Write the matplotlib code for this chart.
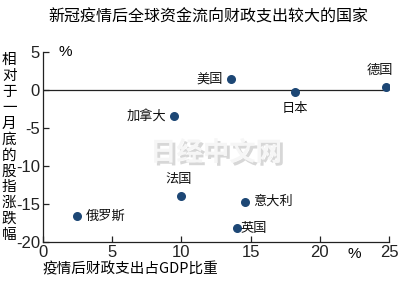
import matplotlib
matplotlib.use("Agg")
import matplotlib.pyplot as plt
import matplotlib.patheffects as pe

plt.rcParams['font.family'] = ['Noto Sans CJK SC', 'DejaVu Sans']

countries = ["俄罗斯", "加拿大", "法国", "美国", "日本", "德国", "意大利", "英国"]
spending = [2.5, 9.5, 10.0, 13.6, 18.2, 24.8, 14.6, 14.0]
stock_change = [-16.6, -3.5, -13.9, 1.4, -0.3, 0.4, -14.7, -18.2]
# label offsets (points) and alignment per country
label_pos = {
    "俄罗斯": (6, 0, "left", "center"),
    "加拿大": (-6, 0, "right", "center"),
    "法国": (-2, 7, "center", "bottom"),
    "美国": (-6, 0, "right", "center"),
    "日本": (0, -7, "center", "top"),
    "德国": (-5, 7, "center", "bottom"),
    "意大利": (6, 0, "left", "center"),
    "英国": (3, 0, "left", "center"),
}
xticks = [0, 5, 10, 15, 20, 25]
yticks = [5, 0, -5, -10, -15, -20]

num_font = ['Liberation Sans Narrow', 'Liberation Sans', 'DejaVu Sans']

fig = plt.figure(figsize=(4, 2.81), dpi=100)
ax = fig.add_axes([0.107, 0.139, 0.866, 0.677])

ax.axhline(0, color="#222222", lw=0.9, zorder=1)
ax.scatter(spending, stock_change, s=30, color="#1d4775", zorder=3)

for name, x, y in zip(countries, spending, stock_change):
    dx, dy, ha, va = label_pos[name]
    ax.annotate(name, (x, y), xytext=(dx, dy), textcoords="offset points",
                ha=ha, va=va, fontsize=9.5, color="#111111", fontweight="medium")

ax.set_xlim(0, 25)
ax.set_ylim(-20, 5)
ax.set_xticks(xticks)
ax.set_yticks(yticks)
ax.set_xticklabels([str(t) for t in xticks], family=num_font, fontsize=12)
ax.set_yticklabels([str(t) for t in yticks], family=num_font, fontsize=12)
ax.tick_params(direction="in", length=4, width=0.9, colors="#222222", pad=2)
for s in ["top", "right"]:
    ax.spines[s].set_visible(False)
for s in ["left", "bottom"]:
    ax.spines[s].set_linewidth(0.9)
    ax.spines[s].set_color("#222222")

ax.text(0.045, 1.0, "%", transform=ax.transAxes, ha="left", va="center",
        fontsize=11, family=num_font)
ax.text(0.9, -0.065, "%", transform=ax.transAxes, ha="center", va="center",
        fontsize=11, family=num_font)

fig.text(0.52, 0.94, "新冠疫情后全球资金流向财政支出较大的国家",
         ha="center", va="center", fontsize=11.5, fontweight="medium")
fig.text(0.023, 0.475, "\n".join("相对于一月底的股指涨跌幅"), ha="center",
         va="center", fontsize=10.5, linespacing=1.17, fontweight="medium")
fig.text(0.107, 0.04, "疫情后财政支出占GDP比重", ha="left", va="center",
         fontsize=10.5, fontweight="medium")

# watermark
fig.text(0.54, 0.455, "日经中文网", ha="center", va="center", fontsize=19,
         color="#f6f6f6", fontweight="bold",
         path_effects=[pe.withSimplePatchShadow(offset=(2, -2), shadow_rgbFace="#b0b0b0", alpha=0.5)])

fig.savefig("out.png", dpi=100)
